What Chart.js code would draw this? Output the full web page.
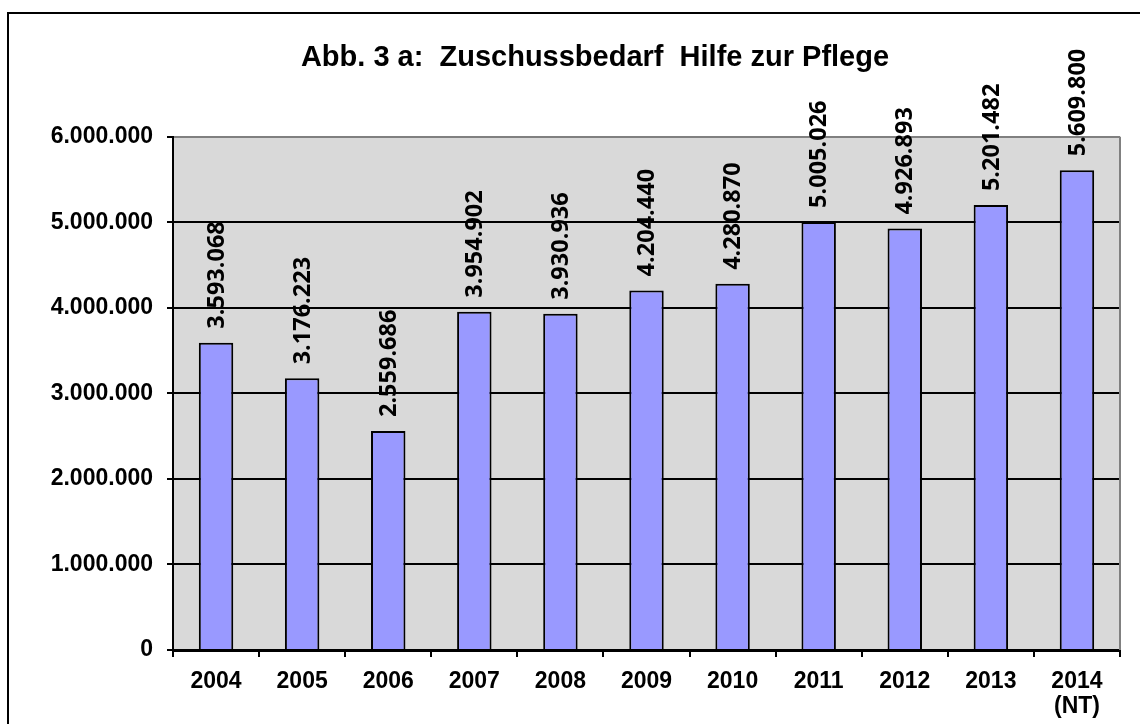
<!DOCTYPE html>
<html>
<head>
<meta charset="utf-8">
<script src="https://cdn.jsdelivr.net/npm/chart.js@4.4.0/dist/chart.umd.min.js"></script>
<style>
  html, body { margin: 0; padding: 0; background: #fff; overflow: hidden; }
  #wrap { position: relative; width: 1140px; height: 724px; }
</style>
</head>
<body>
<div id="wrap"><canvas id="c" width="1140" height="724"></canvas></div>
<script>
const titleText = 'Abb. 3 a:  Zuschussbedarf  Hilfe zur Pflege';
const categories = ['2004', '2005', '2006', '2007', '2008', '2009', '2010', '2011', '2012', '2013', ['2014', '(NT)']];
const zuschussbedarf = [3593068, 3176223, 2559686, 3954902, 3930936, 4204440, 4280870, 5005026, 4926893, 5201482, 5609800];
const yTicks = [0, 1000000, 2000000, 3000000, 4000000, 5000000, 6000000];

function fmt(v) {
  return String(Math.round(v)).replace(/\B(?=(\d{3})+(?!\d))/g, '.');
}

const decorPlugin = {
  id: 'decor',
  afterLayout(chart) {
    if (chart.titleBlock) { chart.titleBlock.left = 70; }
  },
  beforeDraw(chart) {
    const { ctx, chartArea: a } = chart;
    ctx.save();
    ctx.fillStyle = '#D9D9D9';
    ctx.fillRect(a.left, a.top, a.right - a.left, a.bottom - a.top);
    ctx.strokeStyle = '#000';
    ctx.lineWidth = 2;
    ctx.beginPath();
    ctx.moveTo(8, 730);
    ctx.lineTo(8, 13);
    ctx.lineTo(1150, 13);
    ctx.stroke();
    ctx.restore();
  },
  afterDraw(chart) {
    const { ctx, chartArea: a } = chart;
    ctx.save();
    ctx.strokeStyle = '#808080';
    ctx.lineWidth = 2;
    ctx.beginPath();
    ctx.moveTo(a.right, a.top);
    ctx.lineTo(a.right, a.bottom);
    ctx.stroke();
    ctx.restore();
  },
  afterDatasetsDraw(chart) {
    const { ctx } = chart;
    const meta = chart.getDatasetMeta(0);
    const data = chart.data.datasets[0].data;
    ctx.save();
    ctx.fillStyle = '#000';
    ctx.font = '700 23.5px "Open Sans", Lato, sans-serif';
    ctx.textAlign = 'left';
    ctx.textBaseline = 'middle';
    meta.data.forEach((el, i) => {
      ctx.save();
      ctx.translate(el.x + 1, el.y - 14);
      ctx.rotate(-Math.PI / 2);
      ctx.fillText(fmt(data[i]), 0, 0);
      ctx.restore();
    });
    ctx.restore();
  }
};

new Chart(document.getElementById('c'), {
  type: 'bar',
  data: {
    labels: categories,
    datasets: [{
      data: zuschussbedarf,
      backgroundColor: '#9999FF',
      borderColor: '#000',
      borderWidth: 2,
      borderSkipped: 'bottom',
      categoryPercentage: 1.0,
      barPercentage: 0.4
    }]
  },
  options: {
    responsive: false,
    animation: false,
    devicePixelRatio: 1,
    layout: { padding: { left: 0, right: 20, top: 0, bottom: 0 } },
    plugins: {
      legend: { display: false },
      tooltip: { enabled: false },
      title: {
        display: true,
        text: titleText,
        color: '#000',
        font: { family: '"Liberation Sans", Arial, sans-serif', size: 29, weight: 'bold' },
        padding: { top: 41, bottom: 61 }
      }
    },
    scales: {
      x: {
        offset: true,
        grid: { drawOnChartArea: false, offset: true, color: '#000', tickColor: '#000', lineWidth: 2, tickLength: 7 },
        border: { color: '#000', width: 3 },
        ticks: {
          color: '#000',
          padding: 12,
          maxRotation: 0,
          autoSkip: false,
          font: { family: '"Liberation Sans", Arial, sans-serif', size: 23, weight: 'bold', lineHeight: 1.1 }
        },
        afterFit(scale) { scale.height = 74; }
      },
      y: {
        min: 0,
        max: 6000000,
        afterBuildTicks(scale) { scale.ticks = yTicks.map(v => ({ value: v })); },
        grid: {
          color: (c) => (c.tick && c.tick.value === 6000000 ? '#808080' : '#000'),
          tickColor: '#000',
          lineWidth: 2,
          tickLength: 6
        },
        border: { color: '#000', width: 2 },
        ticks: {
          color: '#000',
          padding: 14,
          font: { family: '"Liberation Sans", Arial, sans-serif', size: 23, weight: 'bold' },
          callback: (v) => fmt(v)
        },
        afterFit(scale) { scale.width = 173; }
      }
    }
  },
  plugins: [decorPlugin]
});
</script>
</body>
</html>
